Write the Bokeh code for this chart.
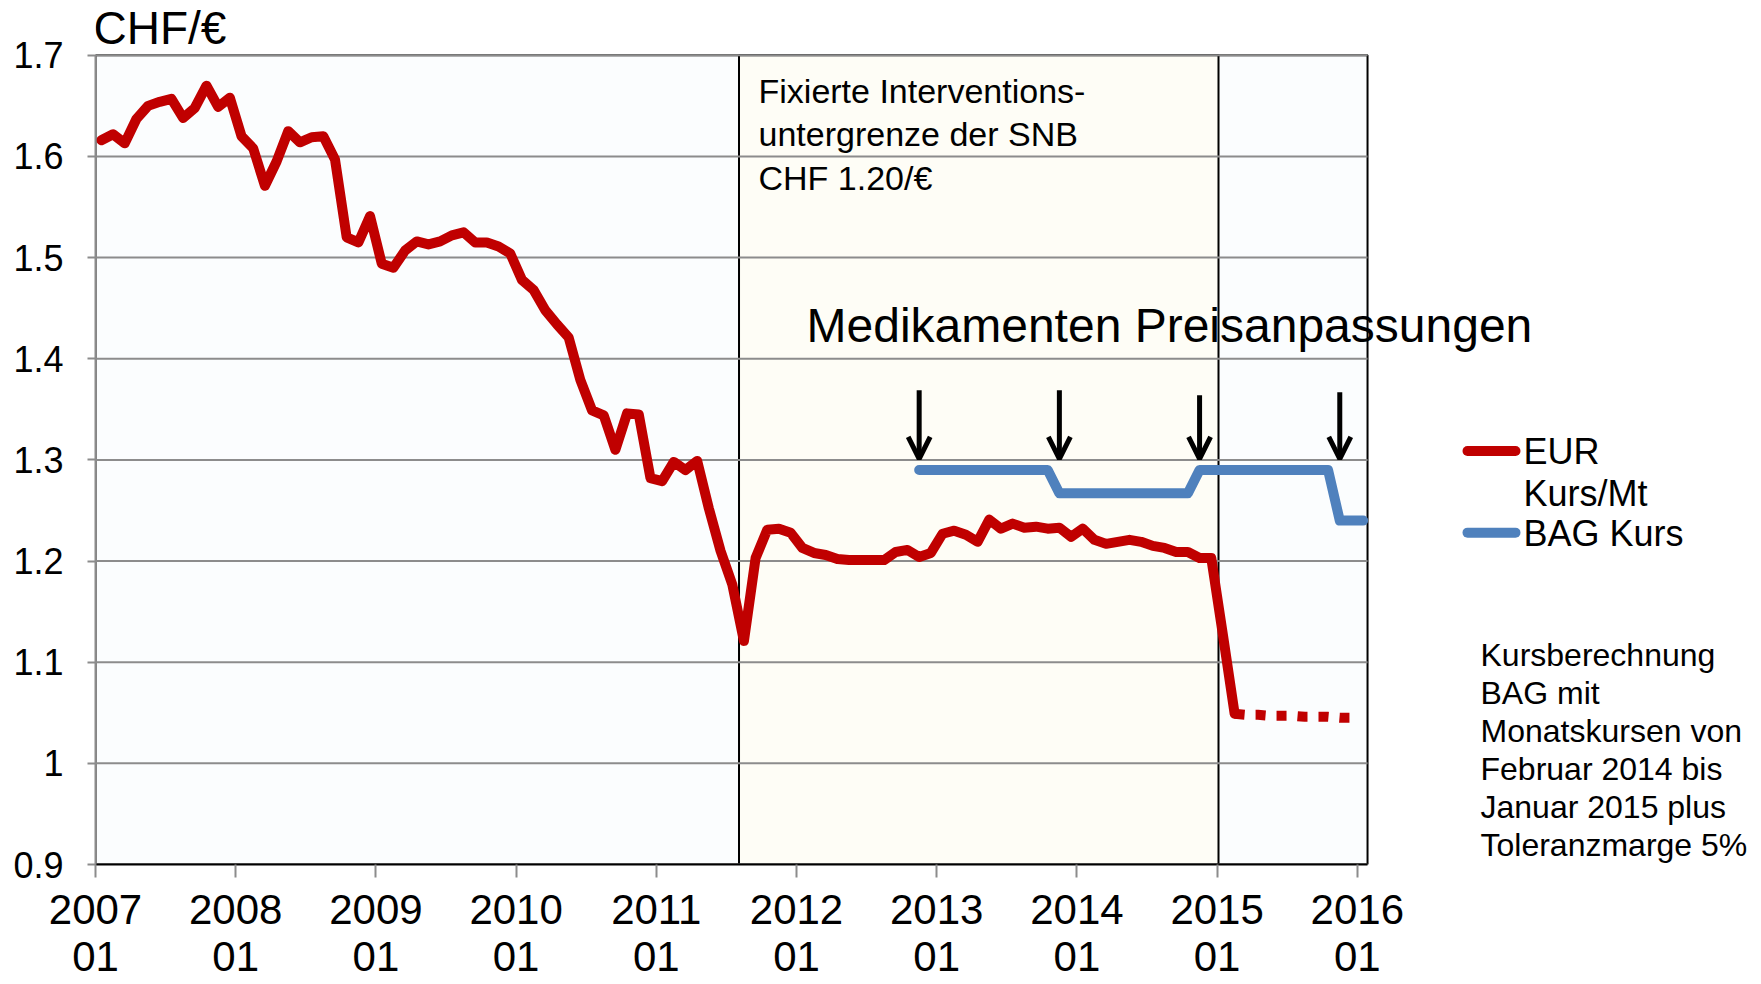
from bokeh.plotting import figure
from bokeh.models import Label, Arrow, OpenHead, FixedTicker
from bokeh.embed import file_html
from bokeh.resources import INLINE

# ---------------- data ----------------
# monthly EUR/CHF averages, starting January 2007
eur_start = (2007, 1)
eur_kurs = [
    1.616, 1.622, 1.613, 1.637, 1.650, 1.654, 1.657, 1.638, 1.648, 1.670, 1.649, 1.658,   # 2007
    1.620, 1.608, 1.571, 1.595, 1.625, 1.614, 1.619, 1.620, 1.597, 1.520, 1.515, 1.541,   # 2008
    1.494, 1.490, 1.507, 1.516, 1.513, 1.516, 1.522, 1.525, 1.515, 1.515, 1.511, 1.504,   # 2009
    1.478, 1.468, 1.448, 1.434, 1.421, 1.379, 1.349, 1.344, 1.310, 1.346, 1.345, 1.282,   # 2010
    1.279, 1.298, 1.290, 1.299, 1.252, 1.210, 1.177, 1.121, 1.203, 1.231, 1.232, 1.228,   # 2011
    1.213, 1.208, 1.206, 1.202, 1.201, 1.201, 1.201, 1.201, 1.209, 1.211, 1.204, 1.208,   # 2012
    1.227, 1.230, 1.226, 1.219, 1.241, 1.232, 1.237, 1.233, 1.234, 1.232, 1.233, 1.224,   # 2013
    1.232, 1.221, 1.217, 1.219, 1.221, 1.219, 1.215, 1.213, 1.209, 1.209, 1.203, 1.203,   # 2014
    1.127, 1.049,                                                                           # 2015
]
# dotted continuation 2015 (Feb - Dec)
eur_prognose_start = (2015, 2)
eur_prognose = [1.049, 1.048, 1.048, 1.047, 1.047, 1.047, 1.046, 1.046, 1.046, 1.045, 1.045]

# BAG exchange rate, starting November 2012
bag_start = (2012, 11)
bag_kurs = [1.290] * 12 + [1.267] * 12 + [1.290] * 12 + [1.240] * 3

# price adjustment dates (arrows)
anpassung_monate = [(2012, 11), (2013, 11), (2014, 11), (2015, 11)]

# SNB floor period (decimal years)
snb_beginn = 2011.59
snb_ende = 2015.01

x_ticks = [2007, 2008, 2009, 2010, 2011, 2012, 2013, 2014, 2015, 2016]
x_tick_labels = ["2007\n01", "2008\n01", "2009\n01", "2010\n01", "2011\n01",
                 "2012\n01", "2013\n01", "2014\n01", "2015\n01", "2016\n01"]
y_ticks = [0.9, 1.0, 1.1, 1.2, 1.3, 1.4, 1.5, 1.6, 1.7]
y_tick_labels = ["0.9", "1", "1.1", "1.2", "1.3", "1.4", "1.5", "1.6", "1.7"]

# plot area extent (data units)
X_START, X_END = 2007.0, 2016.073
Y_MIN, Y_MAX = 0.9, 1.7


def month_x(start, n):
    y, m = start
    out = []
    for k in range(n):
        mm = m - 1 + k
        out.append(y + mm // 12 + ((mm % 12) + 0.5) / 12.0)
    return out


# ---------------- layout ----------------
W, H = 1760, 982
BL, BB = 95, 115          # left axis panel, bottom axis panel
FW, FH = W - BL, H - BB   # frame reaches top and right edges
XPX = 140.2               # px per year
YPX = 1015.0              # px per CHF unit
X0 = X_START
X1 = X_START + FW / XPX
Y0 = Y_MIN
Y1 = Y_MIN + FH / YPX


def to_x(X):  # screenshot px -> data
    return X0 + (X - BL) / XPX


def to_y(Y):
    return Y0 + (FH - Y) / YPX


FONT = "Liberation Sans"
RED = "#C00000"
BLUE = "#4F81BD"
GRID = "#8C8C8C"

p = figure(width=W, height=H, x_range=(X0, X1), y_range=(Y0, Y1),
           output_backend="svg", toolbar_location=None,
           min_border_left=BL, min_border_right=0, min_border_top=0, min_border_bottom=BB)
p.background_fill_color = "white"
p.border_fill_color = "white"
p.outline_line_color = None
p.xgrid.visible = False
p.ygrid.visible = False

p.yaxis.ticker = FixedTicker(ticks=y_ticks)
p.yaxis.bounds = (Y_MIN, Y_MAX)
p.yaxis.major_label_overrides = dict(zip(y_ticks, y_tick_labels))
p.yaxis.major_label_text_font = FONT
p.yaxis.major_label_text_font_size = "36px"
p.yaxis.major_label_text_color = "black"
p.yaxis.major_label_standoff = 24
p.yaxis.major_tick_out = 8
p.yaxis.major_tick_in = 0
p.yaxis.minor_tick_line_color = None
p.yaxis.axis_line_color = GRID
p.yaxis.axis_line_width = 2
p.yaxis.major_tick_line_color = GRID
p.yaxis.major_tick_line_width = 2

p.xaxis.ticker = FixedTicker(ticks=x_ticks)
p.xaxis.bounds = (X_START, X_END)
p.xaxis.major_label_overrides = dict(zip(x_ticks, x_tick_labels))
p.xaxis.major_label_text_font = FONT
p.xaxis.major_label_text_font_size = "42px"
p.xaxis.major_label_text_line_height = 1.0
p.xaxis.major_label_text_color = "black"
p.xaxis.major_label_standoff = 8
p.xaxis.major_tick_out = 13
p.xaxis.major_tick_in = 0
p.xaxis.minor_tick_line_color = None
p.xaxis.axis_line_color = "black"
p.xaxis.axis_line_width = 2
p.xaxis.major_tick_line_color = GRID
p.xaxis.major_tick_line_width = 2

# plot area and SNB period shading
p.quad(left=[X_START], right=[X_END], bottom=[Y_MIN], top=[Y_MAX],
       fill_color="#FBFDFE", line_color="black", line_width=2, level="image")
p.quad(left=[snb_beginn], right=[snb_ende], bottom=[Y_MIN], top=[Y_MAX],
       fill_color="#FEFDF6", line_color="black", line_width=2, level="image")

# horizontal grid lines
p.segment(x0=[X_START] * len(y_ticks), x1=[X_END] * len(y_ticks), y0=y_ticks, y1=y_ticks,
          line_color=GRID, line_width=2)

# series
p.line(month_x(bag_start, len(bag_kurs)), bag_kurs, line_color=BLUE, line_width=10,
       line_join="round", line_cap="round")
p.line(month_x(eur_start, len(eur_kurs)), eur_kurs, line_color=RED, line_width=10,
       line_join="round", line_cap="round")
p.line(month_x(eur_prognose_start, len(eur_prognose)), eur_prognose, line_color=RED,
       line_width=10, line_dash="10 11", line_cap="butt")

# arrows
arrow_tops = [to_y(391), to_y(391), to_y(396), to_y(393)]
for (yy, mm), top in zip(anpassung_monate, arrow_tops):
    ax = month_x((yy, mm), 1)[0]
    p.add_layout(Arrow(x_start=ax, y_start=top, x_end=ax, y_end=to_y(460),
                       line_color="black", line_width=5,
                       end=OpenHead(size=22, line_width=5, line_color="black")))


def lab(text, X, Y, size, align="left"):
    # X, Y: left / baseline position in screenshot px
    p.add_layout(Label(x=to_x(X), y=to_y(Y - 0.34 * size), text=text, text_font=FONT,
                       text_font_size=f"{size}px", text_align=align,
                       text_baseline="alphabetic", text_color="black"))


lab("CHF/€", 93, 43, 46)

lab("Fixierte Interventions-", 758, 102, 34)
lab("untergrenze der SNB", 758, 146, 34)
lab("CHF 1.20/€", 758, 190, 34)

lab("Medikamenten Preisanpassungen", 806, 342, 48)

# legend
p.add_layout(Arrow(start=None, end=None, x_start=to_x(1467), y_start=to_y(452),
                   x_end=to_x(1515), y_end=to_y(452), line_color=RED, line_width=10,
                   line_cap="round"))
p.add_layout(Arrow(start=None, end=None, x_start=to_x(1467), y_start=to_y(534),
                   x_end=to_x(1515), y_end=to_y(534), line_color=BLUE, line_width=10,
                   line_cap="round"))
lab("EUR", 1523, 465, 36)
lab("Kurs/Mt", 1523, 507, 36)
lab("BAG Kurs", 1523, 547, 36)

note = ["Kursberechnung", "BAG mit", "Monatskursen von", "Februar 2014 bis",
        "Januar 2015 plus", "Toleranzmarge 5%"]
for k, line in enumerate(note):
    lab(line, 1480, 668 + k * 38, 32)

open("out.html", "w").write(file_html(p, INLINE))
